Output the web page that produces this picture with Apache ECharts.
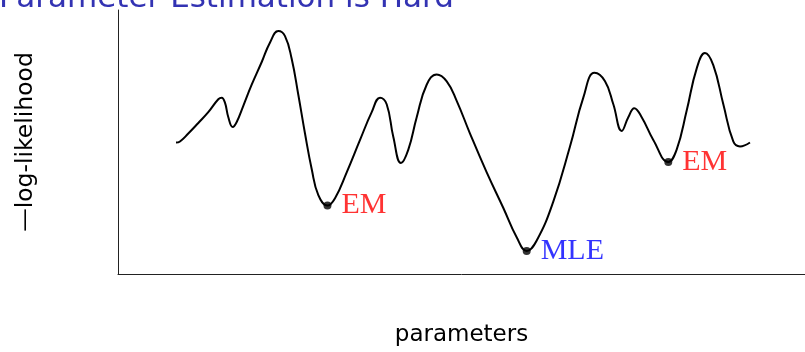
<!DOCTYPE html>
<html>
<head>
<meta charset="utf-8" />
<title>Parameter Estimation is Hard</title>
<script src="https://cdn.jsdelivr.net/npm/echarts@6/dist/echarts.min.js"></script>
<style>
  html,
  body {
    margin: 0;
    padding: 0;
    background: #fff;
  }
  #main {
    width: 805px;
    height: 352px;
  }
</style>
</head>
<body>
<div id="main"></div>
<script>
// 曲线上的点 (参数, -log-likelihood)
const paramX = [
  8.44, 9.02, 10.23, 11.69, 13.14, 14.6, 15.09, 15.57, 16.06, 16.7,
  17.28, 18.24, 19.46, 20.92, 22.13, 23.33, 24.31, 25.28, 26.24, 27.22,
  28.2, 29.16, 30.49, 31.59, 33.29, 35.23, 36.93, 38.14, 39.11, 40.07,
  41.19, 42.26, 43.48, 44.93, 46.39, 47.85, 49.3, 51.24, 53.67, 56.09,
  58.03, 59.49, 60.95, 63.36, 65.79, 67.73, 69.36, 70.89, 72.1, 73.32,
  74.28, 75.15, 76.23, 77.92, 80.1, 81.32, 82.78, 84.24, 85.44, 86.65,
  88.11, 89.56, 90.54, 91.99,
];
const negLogLik = [
  49.8, 50.2, 53.2, 57.2, 61.3, 66.2, 66.8, 64.9, 59.4, 55.7,
  57.6, 63.7, 71.7, 80.3, 87.7, 92.0, 90.1, 81.5, 68.0, 53.2,
  39.7, 29.9, 25.9, 28.7, 38.5, 50.8, 61.3, 66.8, 64.3, 52.0,
  42.0, 47.1, 59.4, 71.7, 75.6, 73.0, 65.6, 53.2, 38.5, 25.0,
  13.9, 8.7, 12.7, 27.4, 48.3, 66.8, 76.2, 73.0, 64.3, 54.2,
  59.4, 62.8, 59.4, 50.8, 42.4, 47.1, 61.9, 77.9, 83.7, 79.1,
  64.3, 50.2, 48.3, 49.8,
];

// 标注的极小值点
const markNames = ["EM", "MLE", "EM"];
const markX = [30.49, 59.49, 80.1];
const markY = [25.9, 8.7, 42.4];
const markColors = ["#ff0000", "#0000ff", "#ff0000"];

const titleText = "Parameter Estimation is Hard";
const xName = "parameters";
const yName = "\u2014log-likelihood";

var chartDom = document.getElementById("main");
var myChart = echarts.init(chartDom);
var option;

option = {
  animation: false,
  backgroundColor: "#fff",
  graphic: [
    {
      type: "text",
      left: -1,
      top: -17,
      style: {
        text: titleText,
        fill: "#3333b3",
        font: "31px 'DejaVu Sans'",
      },
    },
  ],
  grid: {
    left: 118,
    right: 0,
    top: 10,
    bottom: 71,
  },
  xAxis: {
    type: "value",
    min: 0,
    max: 100,
    name: xName,
    nameLocation: "middle",
    nameGap: 50,
    nameTextStyle: {
      fontFamily: "DejaVu Sans",
      fontSize: 23,
      color: "#000",
    },
    axisLine: {
      show: true,
      onZero: false,
      lineStyle: { color: "#222", width: 1 },
    },
    axisTick: { show: false },
    axisLabel: { show: false },
    splitLine: { show: false },
  },
  yAxis: {
    type: "value",
    min: 0,
    max: 100,
    name: yName,
    nameLocation: "middle",
    nameGap: 80,
    nameRotate: 90,
    nameTextStyle: {
      fontFamily: "DejaVu Sans",
      fontSize: 23.5,
      color: "#000",
    },
    axisLine: {
      show: true,
      lineStyle: { color: "#222", width: 1 },
    },
    axisTick: { show: false },
    axisLabel: { show: false },
    splitLine: { show: false },
  },
  series: [
    {
      type: "line",
      data: paramX.map((x, i) => [x, negLogLik[i]]),
      smooth: 0.45,
      showSymbol: false,
      lineStyle: { color: "#000", width: 2 },
      z: 2,
    },
    {
      type: "scatter",
      symbolSize: 8,
      itemStyle: { color: "#000" },
      data: markX.map((x, i) => ({
        value: [x, markY[i]],
        label: {
          show: true,
          position: "right",
          distance: 10,
          formatter: markNames[i],
          color: markColors[i],
          fontFamily: "Liberation Serif",
          fontSize: 30,
        },
      })),
      z: 3,
    },
  ],
};

option && myChart.setOption(option);
</script>
</body>
</html>
